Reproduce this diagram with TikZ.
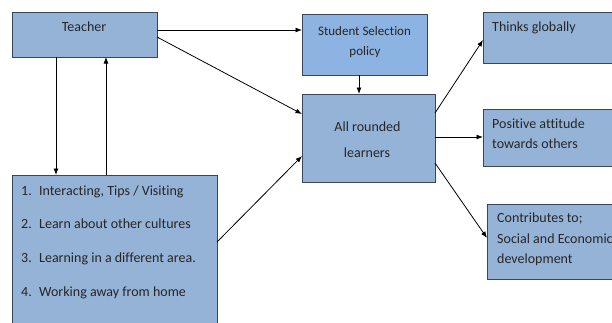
\documentclass[tikz,border=0pt]{standalone}
\usepackage{fontspec}
\setmainfont{Carlito}[Ligatures=CommonOff]
\usetikzlibrary{arrows.meta}
\definecolor{boxfill}{HTML}{95B3D7}
\definecolor{ssfill}{HTML}{8DB3E2}
\definecolor{boxline}{HTML}{3A4656}
\begin{document}
\begin{tikzpicture}[x=1pt,y=-1pt,
  box/.style={draw=boxline, fill=boxfill, line width=0.9pt, inner sep=0pt, outer sep=0pt},
  arr/.style={-{Latex[length=6.5pt,width=5pt]}, line width=0.8pt, black},
  txt/.style={font=\fontsize{14}{16}\selectfont, inner sep=0pt, text=black!85},
  stxt/.style={font=\fontsize{13}{15}\selectfont, inner sep=0pt, text=black!85}]
\useasboundingbox (0,0) rectangle (612,322);
\clip (0,0) rectangle (612,322);
% boxes
\node[box, minimum width=145pt, minimum height=45pt] (teacher) at (84.5,34.5) {};
\node[box, fill=ssfill, minimum width=125pt, minimum height=61pt] (ssp) at (364.5,44.5) {};
\node[box, minimum width=133pt, minimum height=88pt] (ar) at (368.5,138) {};
\node[box, minimum width=177pt, minimum height=51pt] (tg) at (571.5,37.5) {};
\node[box, minimum width=177pt, minimum height=57pt] (pa) at (571.5,137.5) {};
\node[box, minimum width=173pt, minimum height=75pt] (cb) at (573.5,241.5) {};
\node[box, minimum width=205pt, minimum height=165pt] (list) at (114.5,257.5) {};
% texts
\node[txt, anchor=mid] (tteacher) at (84,29) {Teacher};
\node[stxt, anchor=mid] (tssp1) at (364.5,33.5) {Student Selection};
\node[stxt, anchor=mid] (tssp2) at (365,53.5) {policy};
\node[txt, anchor=mid] (tar1) at (367.5,129.5) {All rounded};
\node[txt, anchor=mid] (tar2) at (367,155.5) {learners};
\node[txt, anchor=mid west] (ttg) at (492,29.5) {Thinks globally};
\node[txt, anchor=mid west] (tpa1) at (492,126.5) {Positive attitude};
\node[txt, anchor=mid west] (tpa2) at (492,146.5) {towards others};
\node[txt, anchor=mid west] (tcb1) at (497,220.5) {Contributes to;};
\node[txt, anchor=mid west] (tcb2) at (497,241.5) {Social and Economic};
\node[txt, anchor=mid west] (tcb3) at (497,261.5) {development};
\node[txt, anchor=mid west] (tl1) at (21,193.5) {\makebox[18pt][l]{1.}Interacting, Tips / Visiting};
\node[txt, anchor=mid west] (tl2) at (21,226.5) {\makebox[18pt][l]{2.}Learn about other cultures};
\node[txt, anchor=mid west] (tl3) at (21,260.5) {\makebox[18pt][l]{3.}Learning in a different area.};
\node[txt, anchor=mid west] (tl4) at (21,294) {\makebox[18pt][l]{4.}Working away from home};
% connectors
\draw[arr] ([yshift=4.5pt]teacher.east) -- ([yshift=14.5pt]ssp.west);
\draw[arr] ([yshift=-2.5pt]teacher.east) -- ([yshift=24pt]ar.west);
\draw[arr] ([xshift=-28.5pt]teacher.south) -- ([xshift=-58.5pt]list.north);
\draw[arr] ([xshift=-8.5pt]list.north) -- ([xshift=21.5pt]teacher.south);
\draw[arr] ([yshift=15.5pt]list.east) -- ([yshift=-18pt]ar.west);
\draw[arr] ([xshift=-5.5pt]ssp.south) -- ([xshift=-9.5pt]ar.north);
\draw[arr] ([yshift=25pt]ar.east) -- ([yshift=-2.5pt]tg.west);
\draw[arr] ([yshift=1pt]ar.east) -- ([yshift=0.5pt]pa.west);
\draw[arr] ([yshift=-25pt]ar.east) -- ([yshift=3.5pt]cb.west);
\end{tikzpicture}
\end{document}
